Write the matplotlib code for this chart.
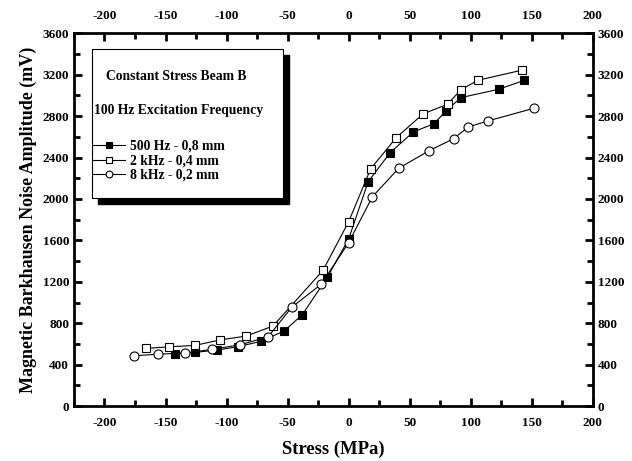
import matplotlib.pyplot as plt
from matplotlib.patches import Rectangle
from matplotlib.ticker import MultipleLocator

# 500 Hz - 0,8 mm (filled squares)
x_500 = [-142, -126, -108, -91, -72, -53, -38, -17.5, 0, 16, 34, 53, 70, 80, 92, 123, 144]
y_500 = [505, 519, 541, 573, 625, 724, 882, 1243, 1613, 2167, 2447, 2647, 2727, 2853, 2978, 3059, 3146]

# 2 kHz - 0,4 mm (open squares)
x_2k = [-166, -147, -126, -105, -84, -62, -21, 0, 18, 39, 61, 81, 92, 106, 142]
y_2k = [557, 573, 586, 640, 676, 773, 1311, 1780, 2290, 2592, 2821, 2914, 3055, 3146, 3243]

# 8 kHz - 0,2 mm (open circles)
x_8k = [-176, -156, -134, -112, -89, -66, -46.5, -22.5, 0, 19.5, 41, 65.5, 86, 98, 114, 152]
y_8k = [486, 502, 512, 548, 592, 669, 956, 1176, 1578, 2022, 2296, 2463, 2582, 2695, 2753, 2876]

plt.rcParams['font.family'] = 'Liberation Serif'
plt.rcParams['font.weight'] = 'bold'
plt.rcParams['axes.unicode_minus'] = False

fig = plt.figure(figsize=(6.32, 4.61), dpi=100)
ax = fig.add_axes([0.117, 0.119, 0.821, 0.809])

ms = 6
ax.plot(x_500, y_500, '-s', color='black', lw=0.8, ms=ms, mfc='black', mec='black', mew=0.8,
        label='500 Hz - 0,8 mm')
ax.plot(x_2k, y_2k, '-s', color='black', lw=0.8, ms=ms, mfc='white', mec='black', mew=0.8,
        label='2 kHz - 0,4 mm')
ax.plot(x_8k, y_8k, '-o', color='black', lw=0.8, ms=ms + 0.5, mfc='white', mec='black', mew=0.8,
        label='8 kHz - 0,2 mm')

ax.set_xlim(-225, 200)
ax.set_ylim(0, 3600)
ax.xaxis.set_major_locator(MultipleLocator(50))
ax.xaxis.set_minor_locator(MultipleLocator(25))
ax.yaxis.set_major_locator(MultipleLocator(400))
ax.yaxis.set_minor_locator(MultipleLocator(200))

ax.tick_params(which='both', direction='in', top=True, right=True,
               labeltop=True, labelright=True, width=2, labelsize=9.5)
ax.tick_params(which='major', length=6)
ax.tick_params(which='minor', length=4)
ax.tick_params(axis='x', which='major', pad=8)
for lab in ax.get_xticklabels() + ax.get_yticklabels():
    lab.set_fontweight('bold')
for s in ax.spines.values():
    s.set_linewidth(2)

ax.set_xlabel('Stress (MPa)', fontsize=13.4, fontweight='bold', labelpad=8)
ax.set_ylabel('Magnetic Barkhausen Noise Amplitude (mV)', fontsize=13, fontweight='bold',
              labelpad=4)

# legend box with shadow
bx, by, bw, bh = 0.035, 0.558, 0.368, 0.40
ax.add_patch(Rectangle((bx + 0.012, by - 0.016), bw, bh, transform=ax.transAxes,
                       facecolor='black', edgecolor='black', zorder=5))
ax.add_patch(Rectangle((bx, by), bw, bh, transform=ax.transAxes,
                       facecolor='white', edgecolor='black', lw=0.8, zorder=6))
ax.text(0.198, 0.883, 'Constant Stress Beam B', transform=ax.transAxes, ha='center',
        va='center', fontsize=9.8, fontweight='bold', zorder=7)
ax.text(0.038, 0.794, '100 Hz Excitation Frequency', transform=ax.transAxes, ha='left',
        va='center', fontsize=9.8, fontweight='bold', zorder=7)
leg = ax.legend(loc='upper left', bbox_to_anchor=(0.018, 0.74), frameon=False,
                prop={'size': 9.8, 'weight': 'bold'}, handlelength=2.4, handletextpad=0.3,
                labelspacing=0.12, borderpad=0.2, markerscale=0.75)
leg.set_zorder(8)

fig.savefig('out.png', dpi=100)
